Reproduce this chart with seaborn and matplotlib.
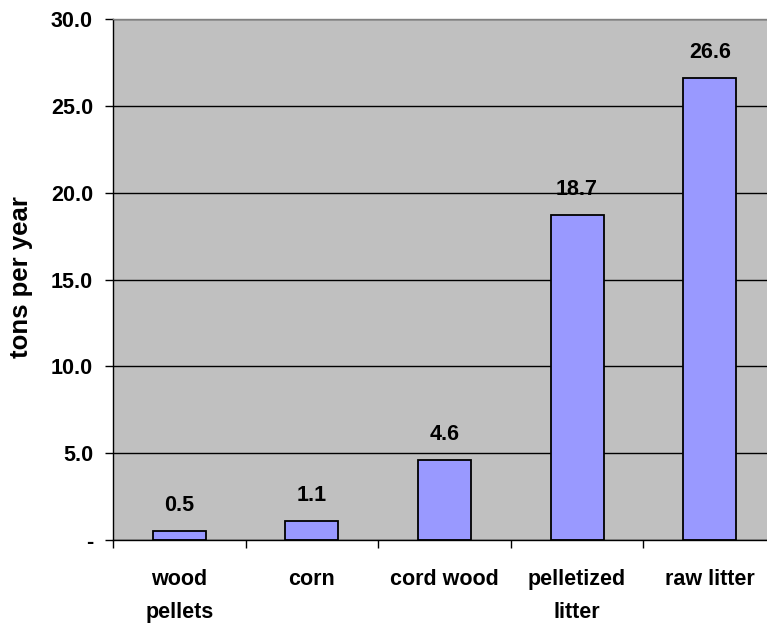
import matplotlib
matplotlib.use("Agg")
import matplotlib.pyplot as plt
import seaborn as sns
import pandas as pd

categories = ["wood\npellets", "corn", "cord wood", "pelletized\nlitter", "raw litter"]
tons = [0.5, 1.1, 4.6, 18.7, 26.6]
yticks = [0, 5, 10, 15, 20, 25, 30]
ytick_labels = ["-", "5.0", "10.0", "15.0", "20.0", "25.0", "30.0"]

df = pd.DataFrame({"fuel": categories, "tons": tons})

sns.set_style("white")
plt.rcParams["font.family"] = ["Liberation Sans", "DejaVu Sans"]
plt.rcParams["font.weight"] = "bold"
plt.rcParams["text.color"] = "black"
plt.rcParams["xtick.color"] = "black"
plt.rcParams["ytick.color"] = "black"
plt.rcParams["axes.labelcolor"] = "black"

fig = plt.figure(figsize=(7.67, 6.23), dpi=100)
# plot area runs past the right edge of the picture, as in the reference
ax = fig.add_axes([113 / 767, 83 / 623, 663 / 767, 521 / 623])
ax.set_facecolor("#C0C0C0")

sns.barplot(data=df, x="fuel", y="tons", order=categories, color="#9999FF",
            saturation=1, width=0.4, edgecolor="black", linewidth=1.3, ax=ax)

for i, v in enumerate(tons):
    ax.annotate(f"{v:.1f}", (i, v), xytext=(0, 11), textcoords="offset points",
                ha="center", va="bottom", fontsize=15.5, fontweight="bold")

ax.set_ylim(0, 30)
ax.set_xlim(-0.5, 4.5)
ax.set_yticks(yticks)
ax.set_yticklabels(ytick_labels, fontsize=15.5, fontweight="bold")
ax.yaxis.grid(True, color="black", linewidth=1.0)
ax.set_axisbelow(True)

ax.set_xticks(range(len(categories)))
ax.set_xticklabels(categories, fontsize=15.5, fontweight="bold", linespacing=1.75)
ax.set_xticks([i - 0.5 for i in range(len(categories) + 1)], minor=True)
ax.tick_params(axis="x", which="major", length=0, pad=21, bottom=True)
ax.tick_params(axis="x", which="minor", length=5.8, width=1, direction="out", bottom=True)
ax.tick_params(axis="y", length=5.8, width=1, direction="out", left=True, pad=8.6)

ax.set_xlabel("")
ax.set_ylabel("tons per year", fontsize=18.5, fontweight="bold")
ax.yaxis.set_label_coords(-80 / 663, 0.505)

for s in ["left", "bottom"]:
    ax.spines[s].set_color("black")
    ax.spines[s].set_linewidth(1.0)
for s in ["top", "right"]:
    ax.spines[s].set_color("#808080")
    ax.spines[s].set_linewidth(1.0)

fig.savefig("out.png", dpi=100)
